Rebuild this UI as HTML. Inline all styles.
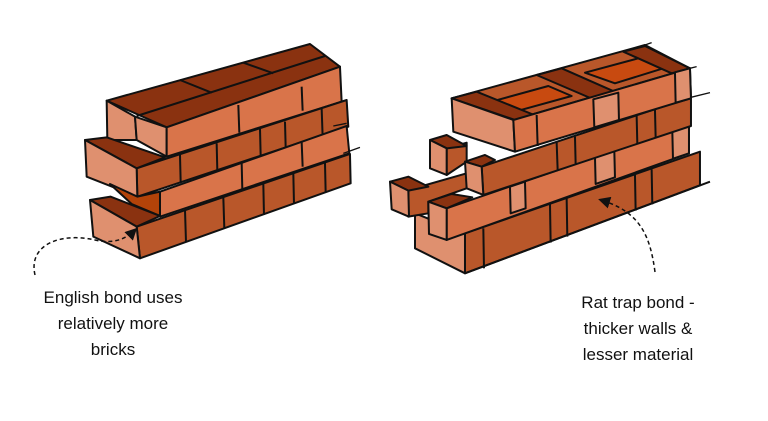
<!DOCTYPE html>
<html><head><style>
html,body{margin:0;padding:0;background:#fff}
svg{display:block}
text{font-family:"Liberation Sans",sans-serif;font-size:17px;fill:#111;text-anchor:middle}
</style></head><body>
<svg width="768" height="421" viewBox="0 0 768 421" xmlns="http://www.w3.org/2000/svg">
<defs>
<marker id="ah" markerWidth="8" markerHeight="8" refX="6" refY="4" orient="auto"><path d="M0,0 L8,4 L0,8 z" fill="#111"/></marker>
</defs>
<!-- LEFT WALL -->
<g transform="translate(80,40) scale(0.3333)" stroke="#111" stroke-width="6" stroke-linejoin="round">
 <polygon points="80,182 690,12 780,80 260,262" fill="#8a3210"/>
 <line x1="170" y1="228" x2="735" y2="48"/>
 <line x1="300" y1="120" x2="395" y2="158"/>
 <line x1="490" y1="68" x2="580" y2="100"/>
 <polygon points="80,182 165,230 170,300 82,300" fill="#df906f"/>
 <polygon points="165,230 260,262 260,350 170,300" fill="#df906f"/>
 <polygon points="260,262 780,80 785,185 260,350" fill="#d9744a"/>
 <line x1="475" y1="195" x2="478" y2="278"/>
 <line x1="665" y1="140" x2="668" y2="212"/>
 <polygon points="170,385 800,180 805,260 172,470" fill="#b9572a"/>
 <polygon points="15,300 80,292 255,352 170,385" fill="#8a3210"/>
 <polygon points="15,300 170,385 172,470 20,410" fill="#df906f"/>
 <line x1="300" y1="345" x2="302" y2="425"/>
 <line x1="410" y1="310" x2="412" y2="392"/>
 <line x1="540" y1="265" x2="542" y2="345"/>
 <line x1="615" y1="245" x2="617" y2="320"/>
 <line x1="725" y1="205" x2="728" y2="290"/>
 <polygon points="240,455 800,258 808,340 240,530" fill="#d9744a"/>
 <polygon points="90,432 172,470 240,455 240,528 155,492" fill="#b34309"/>
 <line x1="485" y1="368" x2="487" y2="448"/>
 <line x1="665" y1="305" x2="668" y2="380"/>
 <polygon points="170,560 810,342 812,430 180,655" fill="#b9572a"/>
 <polygon points="30,480 92,470 240,528 170,560" fill="#8a3210"/>
 <polygon points="30,480 170,560 180,655 40,590" fill="#df906f"/>
 <line x1="315" y1="510" x2="318" y2="605"/>
 <line x1="430" y1="472" x2="433" y2="565"/>
 <line x1="550" y1="432" x2="552" y2="525"/>
 <line x1="640" y1="400" x2="642" y2="490"/>
 <line x1="735" y1="368" x2="737" y2="455"/>
 <line x1="760" y1="258" x2="800" y2="250" stroke-width="4"/>
 <line x1="790" y1="340" x2="840" y2="322" stroke-width="4"/>
</g>
<!-- RIGHT WALL -->
<g transform="translate(385,40) scale(0.3333)" stroke="#111" stroke-width="6" stroke-linejoin="round">
 <!-- course 1 (bottom) -->
 <polygon points="240,580 945,335 945,436 240,700" fill="#b9572a"/>
 <polygon points="90,520 240,580 240,700 90,625" fill="#df906f"/>
 <line x1="240" y1="700" x2="975" y2="425"/>
 <line x1="295" y1="565" x2="297" y2="685"/>
 <line x1="495" y1="492" x2="497" y2="608"/>
 <line x1="545" y1="475" x2="547" y2="590"/>
 <line x1="750" y1="405" x2="752" y2="512"/>
 <line x1="800" y1="388" x2="802" y2="493"/>
 <!-- course 2 -->
 <polygon points="185,505 912,255 912,340 185,600" fill="#d9744a"/>
 <polygon points="70,450 245,400 245,445 130,485 130,520 70,530" fill="#b9572a"/>
 <polygon points="15,425 70,410 130,440 70,452" fill="#8a3210"/>
 <polygon points="15,425 70,452 72,530 20,508" fill="#df906f"/>
 <polygon points="130,485 200,462 262,472 185,505" fill="#8a3210"/>
 <polygon points="130,485 185,505 185,600 132,582" fill="#df906f"/>
 <polygon points="375,440 420,425 422,505 377,520" fill="#df906f"/>
 <polygon points="630,352 688,332 690,412 632,432" fill="#df906f"/>
 <polygon points="862,272 912,255 912,340 864,356" fill="#df906f"/>
 <!-- course 3 -->
 <polygon points="290,380 918,172 918,258 295,465" fill="#b9572a"/>
 <polygon points="185,325 245,308 245,365 185,405" fill="#b9572a"/>
 <polygon points="135,300 185,285 245,318 185,325" fill="#8a3210"/>
 <polygon points="135,300 185,325 185,405 135,385" fill="#df906f"/>
 <polygon points="240,365 300,345 330,360 290,380" fill="#8a3210"/>
 <polygon points="240,365 290,380 295,465 245,445" fill="#df906f"/>
 <line x1="515" y1="307" x2="518" y2="390"/>
 <line x1="570" y1="290" x2="572" y2="372"/>
 <line x1="755" y1="228" x2="757" y2="310"/>
 <line x1="810" y1="210" x2="812" y2="292"/>
 <line x1="918" y1="172" x2="975" y2="158" stroke-width="4"/>
 <!-- top course -->
 <polygon points="200,175 780,15 915,85 385,240" fill="#b9572a"/>
 <polygon points="330,182 490,138 560,168 400,212" fill="#c84a10"/>
 <polygon points="600,98 760,55 835,85 690,130" fill="#c84a10"/>
 <polygon points="200,175 275,155 455,228 390,240" fill="#8a3210"/>
 <polygon points="455,105 530,85 700,160 630,180" fill="#8a3210"/>
 <polygon points="715,35 780,18 915,85 860,100" fill="#8a3210"/>
 <polygon points="200,175 385,240 390,335 205,275" fill="#df906f"/>
 <polygon points="385,240 915,85 918,175 390,335" fill="#d9744a"/>
 <polygon points="625,178 700,158 702,240 628,262" fill="#df906f"/>
 <polygon points="870,97 915,85 918,175 872,188" fill="#df906f"/>
 <line x1="455" y1="225" x2="458" y2="318"/>
 <line x1="780" y1="15" x2="800" y2="8" stroke-width="4"/>
 <line x1="915" y1="85" x2="935" y2="80" stroke-width="4"/>
</g>
<!-- arrows -->
<path d="M35,275 C28,245 60,232 95,240 C112,244 125,240 135,230" fill="none" stroke="#111" stroke-width="1.5" stroke-dasharray="4,3" marker-end="url(#ah)"/>
<path d="M655,272 C650,235 640,212 601,200" fill="none" stroke="#111" stroke-width="1.5" stroke-dasharray="4,3" marker-end="url(#ah)"/>
<text x="113" y="303">English bond uses</text>
<text x="113" y="329">relatively more</text>
<text x="113" y="355">bricks</text>
<text x="638" y="308">Rat trap bond -</text>
<text x="638" y="334">thicker walls &amp;</text>
<text x="638" y="360">lesser material</text>
</svg>
</body></html>
